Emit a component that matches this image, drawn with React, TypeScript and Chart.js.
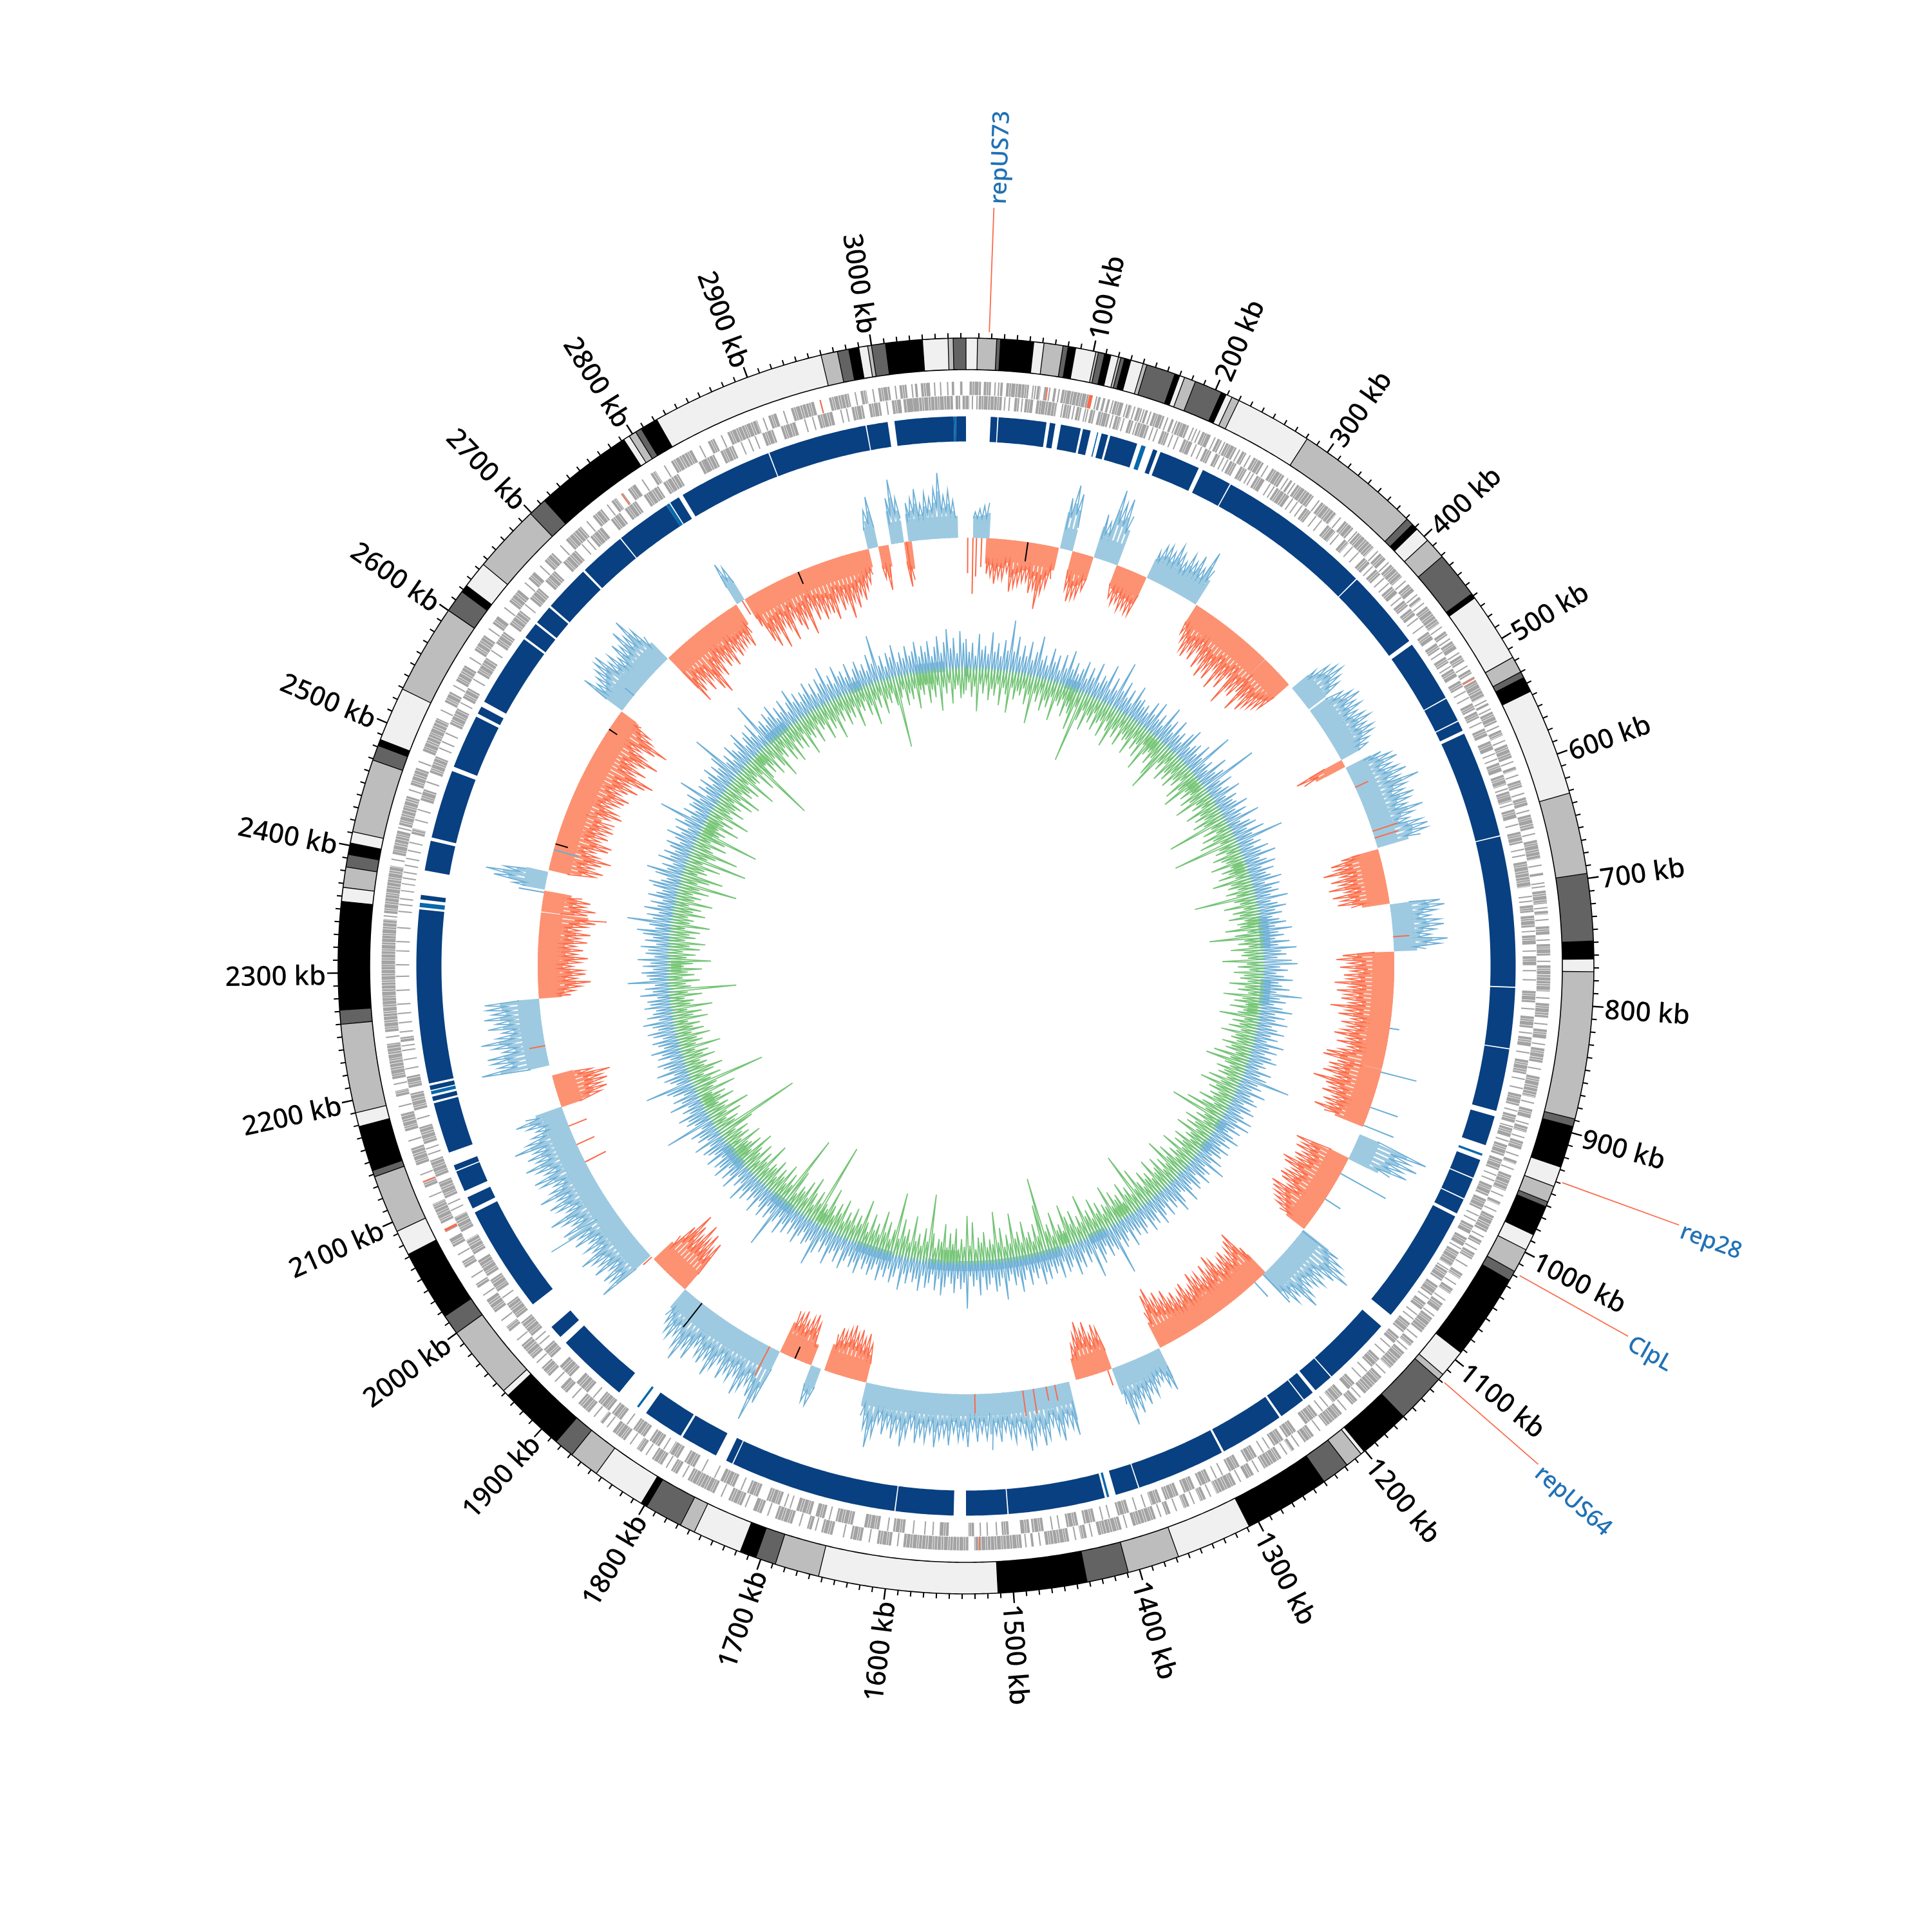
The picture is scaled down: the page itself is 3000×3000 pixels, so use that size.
import React, { useEffect, useRef } from "react";
import { Chart, registerables } from "chart.js";

Chart.register(...registerables);

const GENOME_KB = 3074;

// Outer banding: each band ends at the given kb (starting at 0) with the given tone
const bandEnds = [9,24,27,53,61,76,80,86,102,104,109,114,120,122,125,130,140,143,166,170,174,183,205,209,214,220,281,381,387,392,404,421,458,462,517,530,535,547,632,696,749,763,773,889,895,928,944,957,961,985,998,1017,1025,1093,1115,1120,1160,1201,1204,1218,1240,1308,1368,1409,1442,1512,1653,1688,1704,1717,1756,1768,1798,1803,1845,1869,1885,1937,1942,2000,2016,2072,2092,2138,2143,2179,2190,2260,2271,2356,2367,2383,2393,2402,2411,2469,2481,2486,2529,2600,2618,2624,2645,2699,2714,2792,2797,2803,2808,2822,2960,2973,2982,2990,2997,3000,3011,3040,3060,3064,3074];
const bandTones = ["L","M","D","K","L","M","D","K","L","M","D","K","L","M","D","K","L","M","D","K","L","M","D","K","L","M","L","M","D","K","L","M","D","K","L","M","D","K","L","M","D","K","L","M","D","K","L","M","D","K","L","M","D","K","L","M","D","K","L","M","D","K","L","M","D","K","L","M","D","K","L","M","D","K","L","M","D","K","L","M","D","K","L","M","D","K","L","M","D","K","L","M","D","K","L","M","D","K","L","M","D","K","L","M","D","K","L","M","D","K","L","M","D","K","L","M","D","K","L","M","D"];

const geneOuter = [[3,13],[15,21],[29,31],[34,53],[60,63],[66,68],[74,76],[81,104],[112,114],[116,118],[120,122],[126,134],[138,141],[146,150],[153,155],[160,170],[176,178],[182,192],[198,199],[204,212],[218,222],[226,236],[241,245],[252,262],[270,282],[288,290],[295,312],[320,336],[345,355],[360,378],[385,392],[398,412],[420,428],[434,437],[444,462],[470,474],[480,488],[494,500],[508,512],[518,534],[540,542],[548,558],[565,570],[578,590],[598,601],[610,616],[625,632],[640,652],[662,678],[690,692],[705,716],[722,725],[735,742],[750,760],[768,790],[800,812],[822,830],[838,850],[862,880],[890,898],[905,910],[918,925],[935,938],[948,962],[972,975],[985,1000],[1008,1012],[1020,1026],[1040,1045],[1055,1060],[1070,1078],[1085,1100],[1110,1115],[1122,1140],[1150,1170],[1178,1184],[1195,1212],[1225,1235],[1245,1248],[1258,1275],[1285,1292],[1302,1320],[1330,1335],[1345,1350],[1362,1366],[1375,1395],[1405,1425],[1435,1440],[1450,1470],[1480,1482],[1490,1530],[1535,1590],[1600,1612],[1625,1635],[1650,1660],[1668,1672],[1685,1700],[1712,1720],[1730,1742],[1755,1780],[1790,1796],[1805,1815],[1825,1830],[1842,1855],[1865,1868],[1880,1892],[1905,1912],[1925,1935],[1945,1960],[1975,1980],[1995,2008],[2020,2024],[2040,2046],[2060,2068],[2082,2100],[2115,2120],[2135,2150],[2165,2180],[2195,2200],[2210,2240],[2250,2345],[2350,2390],[2400,2420],[2425,2450],[2460,2475],[2490,2520],[2535,2545],[2555,2570],[2585,2600],[2612,2620],[2635,2648],[2660,2668],[2680,2690],[2705,2722],[2735,2745],[2755,2760],[2772,2780],[2795,2800],[2815,2835],[2850,2856],[2868,2895],[2905,2912],[2925,2945],[2958,2975],[2985,2990],[3000,3010],[3018,3024],[3031,3033],[3036,3044],[3062,3064],[3069,3071]];
const geneInner = [[3020,3063],[3065,3069],[3071,3074],[0,3],[11,31],[42,46],[51,58],[61,79],[85,91],[96,100],[108,112],[115,125],[130,135],[142,146],[150,160],[172,178],[192,200],[212,218],[222,226],[236,242],[246,252],[262,270],[282,295],[312,318],[336,345],[355,360],[378,385],[392,398],[412,420],[428,434],[437,444],[462,470],[474,480],[488,494],[500,508],[512,518],[534,540],[542,548],[558,565],[570,578],[590,598],[601,610],[616,625],[632,640],[652,662],[678,700],[716,722],[725,735],[742,750],[760,768],[790,800],[812,822],[830,838],[850,862],[880,890],[898,905],[910,918],[925,935],[938,948],[962,972],[975,985],[1000,1008],[1012,1020],[1026,1040],[1045,1055],[1060,1070],[1078,1085],[1100,1110],[1115,1122],[1140,1150],[1170,1178],[1184,1195],[1212,1225],[1235,1245],[1248,1258],[1275,1285],[1292,1302],[1320,1330],[1335,1345],[1350,1362],[1366,1375],[1395,1405],[1425,1435],[1440,1450],[1470,1480],[1482,1490],[1500,1506],[1530,1535],[1552,1560],[1590,1600],[1612,1625],[1635,1650],[1660,1668],[1672,1685],[1700,1712],[1720,1730],[1742,1755],[1780,1790],[1796,1805],[1815,1825],[1830,1842],[1855,1865],[1868,1880],[1892,1905],[1912,1925],[1935,1945],[1960,1975],[1980,1995],[2008,2020],[2024,2040],[2046,2060],[2068,2082],[2100,2115],[2120,2135],[2150,2165],[2180,2195],[2200,2210],[2240,2244],[2420,2425],[2450,2460],[2475,2490],[2520,2535],[2545,2555],[2570,2585],[2600,2612],[2620,2635],[2648,2660],[2668,2680],[2690,2705],[2722,2735],[2745,2755],[2760,2772],[2780,2795],[2800,2815],[2835,2850],[2856,2868],[2895,2905],[2912,2925],[2945,2958],[2975,2985],[2990,3000],[3010,3018],[3024,3032]];
// Single short genes standing alone on each strand
const loneOuter = [24,27,56,58,70,78,106,110,124,136,143,151,157,172,180,195,201,215,224,238,248,265,285,292,317,340,358,382,395,416,431,440,465,477,491,504,515,537,545,561,574,593,605,621,636,656,683,698,701,719,729,746,764,795,817,834,855,884,902,914,930,942,966,980,1004,1016,1032,1050,1066,1082,1105,1118,1145,1174,1190,1218,1240,1252,1280,1297,1325,1340,1356,1370,1400,1430,1444,1474,1486,1594,1618,1640,1664,1678,1706,1726,1748,1784,1800,1820,1836,1860,1874,1898,1918,1940,1965,1986,2012,2030,2052,2074,2106,2126,2156,2186,2205,2245,2347,2395,2422,2455,2480,2527,2550,2577,2606,2628,2655,2674,2698,2728,2750,2766,2786,2808,2842,2862,2900,2918,2950,2980,2995,3014,3028,3047,3052,3058];
const loneInner = [5,9,33,37,48,64,83,93,103,105,127,137,148,163,167,181,186,203,208,229,233,255,258,275,279,298,303,308,323,329,348,364,371,388,402,408,424,447,455,483,497,522,528,552,581,586,613,627,645,667,672,708,712,738,755,772,780,805,826,843,866,874,894,908,921,952,957,990,995,1022,1043,1073,1090,1095,1126,1133,1155,1162,1200,1206,1262,1268,1308,1314,1380,1388,1412,1418,1456,1462,1510,1518,1524,1565,1572,1582,1604,1655,1690,1695,1735,1760,1772,1810,1848,1885,1950,1955,2001,2088,2094,2140,2145,2172,2216,2224,2232,2236,2248,2256,2264,2272,2284,2296,2306,2318,2326,2338,2352,2358,2363,2370,2376,2381,2386,2392,2398,2405,2412,2432,2441,2466,2497,2503,2511,2540,2563,2592,2641,2712,2718,2839,2875,2882,2888,2933,2940,2965,2970,3005];
const geneRed = [[104,107],[68,69],[516,517],[2075,2077],[2120,2121],[2765,2766],[2950,2951],[1525,1526]];

const navyBlocks = [[3065,3074],[22,28],[29,72],[75,80],[85,103],[105,112],[122,128],[130,155],[170,174],[177,214],[218,245],[246,386],[387,459],[463,519],[520,542],[543,552],[555,651],[652,787],[788,842],[843,899],[904,931],[945,962],[963,982],[983,997],[1000,1105],[1118,1181],[1182,1200],[1203,1213],[1214,1238],[1240,1298],[1300,1380],[1381,1402],[1412,1499],[1500,1537],[1548,1600],[1601,1751],[1752,1758],[1768,1802],[1804,1841],[1871,1936],[1943,1955],[1981,2078],[2082,2093],[2099,2118],[2119,2124],[2136,2182],[2184,2188],[2194,2198],[2200,2356],[2365,2369],[2391,2418],[2421,2483],[2487,2536],[2539,2546],[2551,2617],[2619,2634],[2636,2653],[2655,2697],[2699,2741],[2742,2792],[2796,2805],[2809,2894],[2895,2984],[2985,3004],[3010,3063]];
const cyanBlocks = [[3063,3065],[118,119],[159,163],[939,941],[1408,1410],[1849,1851],[2190,2193],[2358,2362],[2792,2795]];

const redSegments = [[25,107],[123,148],[176,213],[278,378],[380,418],[523,532],[634,696],[752,888],[889,955],[996,1092],[1160,1306],[1367,1410],[1652,1702],[1718,1756],[1887,1935],[2141,2179],[2270,2367],[2368,2392],[2416,2490],[2491,2616],[2699,2797],[2810,2960],[2973,2985],[3003,3010]];
const blueSegments = [[8,26],[110,123],[150,176],[215,275],[425,454],[456,523],[535,630],[698,750],[966,997],[1095,1160],[1309,1367],[1420,1510],[1511,1652],[1706,1718],[1757,1885],[1942,2010],[2011,2141],[2191,2268],[2394,2414],[2618,2697],[2798,2808],[2961,2973],[2990,3003],[3010,3065]];

// Read per 5 kb: height of the spike of the skew track, px-like units away from its baseline
const skewPeaks = [
0,0,40,45,50,55,58,70,60,62,50,80,72,68,62,60,78,70,101,75,
64,50,80,102,90,60,78,72,68,55,70,60,114,95,105,80,52,60,55,65,
60,65,65,45,58,62,55,70,60,50,66,58,72,55,87,60,50,60,72,80,
66,78,58,84,70,92,76,88,64,96,72,86,60,105,74,82,68,98,70,88,
76,72,66,60,0,45,65,75,80,70,62,55,58,70,80,66,72,60,68,74,
62,70,66,55,48,80,70,60,72,80,66,74,85,70,99,75,68,82,72,64,
88,70,60,78,86,82,70,60,78,72,93,66,84,70,90,64,86,72,80,60,
78,84,70,60,74,80,66,58,84,72,50,80,90,70,84,66,78,72,92,68,
88,74,80,66,96,70,82,60,76,64,72,84,62,78,58,70,90,94,70,82,
76,88,66,100,78,68,80,60,74,64,84,66,70,60,114,90,105,85,95,70,
88,74,82,66,78,70,92,86,68,74,82,76,60,86,80,72,66,60,50,70,
82,90,107,86,70,80,72,66,78,92,62,70,55,89,80,70,60,74,66,58,
72,84,62,76,58,70,66,78,60,56,72,64,54,68,60,78,66,82,72,95,
86,60,70,60,48,52,66,58,74,62,82,70,96,60,68,76,62,84,72,88,
70,55,0,0,84,72,66,88,76,62,80,90,70,84,95,72,66,78,70,60,
76,64,88,70,60,74,56,82,68,72,60,80,66,70,84,62,76,68,80,58,
72,88,66,78,62,74,58,80,99,70,52,60,75,66,78,70,82,74,68,72,
60,0,62,58,0,65,78,70,62,76,68,71,90,122,86,70,82,94,66,78,
70,84,62,76,92,68,80,72,60,88,74,100,82,66,76,70,58,50,88,75,
96,82,104,78,92,109,80,55,60,95,72,80,62,84,70,76,92,64,74,60,
82,70,117,88,66,78,96,62,74,84,66,92,70,60,78,86,64,74,90,68,
80,66,95,72,60,50,62,78,60,66,78,70,82,74,90,62,56,50,60,106,
78,86,92,66,80,98,72,62,84,70,88,74,82,85,50,56,66,82,60,74,
70,54,66,78,60,70,58,76,64,80,62,72,86,103,72,84,66,74,60,50,
82,96,68,55,72,84,66,78,92,70,62,82,86,64,76,68,80,72,78,66,
85,74,62,70,78,84,66,76,90,72,96,107,70,88,66,80,98,72,60,82,
100,68,60,40,75,55,62,70,78,84,62,70,56,76,66,88,72,96,70,50,
92,78,66,86,70,94,104,70,82,60,74,66,80,58,72,64,62,60,70,50,
70,60,50,80,92,70,100,66,74,96,62,78,88,70,100,60,82,68,86,74,
80,92,64,82,70,98,72,85,66,76,60,52,40,60,80,50,70,0,72,100,
70,60,60,66,80,56,72,64,78,102,66,74,58,0,0];

const strayRed = [[2,-55],[8,-87],[12,-60],[18,-45],[558,22],[612,40],[620,38],[735,25],[1527,30],[1472,40],[1460,38],[1445,22],[1435,25],[1372,25],[1770,50],[1940,18],[2073,-36],[2095,-30],[2118,-30],[2214,25],[2805,-25],[3006,-70]];
const strayBlue = [[891,57],[933,45],[1016,80],[1050,28],[955,50],[840,15],[1095,30],[1175,30],[1162,60],[2390,40],[2440,-40],[2640,18]];
const strayBlack = [[71,-30],[1862,47],[1738,-20],[2592,-15],[2447,-20],[2877,-20]];

// Read per 5 kb: the inner track, outward (blue) and inward (green) from its baseline
const gcBlue = [
50,30,44,24,58,34,40,28,62,32,46,26,52,36,84,36,60,30,48,32,
56,28,42,68,32,40,26,54,34,46,24,50,30,60,32,44,28,38,52,26,
46,32,58,28,42,36,64,26,48,30,79,34,52,28,44,24,56,36,40,30,
36,26,48,30,54,28,40,24,60,34,44,26,52,30,38,24,46,56,28,36,
42,28,50,30,80,28,38,24,56,32,44,96,30,48,26,36,52,24,40,30,
34,50,26,42,30,58,24,38,46,28,54,32,80,30,40,26,48,34,56,28,
38,50,26,44,30,36,52,24,46,32,42,28,54,26,36,48,30,40,24,34,
44,26,52,30,38,24,46,28,56,32,40,26,48,57,30,42,24,36,50,28,
34,46,26,66,32,42,24,38,54,28,44,30,50,26,36,48,28,40,24,52,
30,44,26,38,48,28,34,24,46,30,42,81,32,40,26,50,28,36,44,24,
38,46,26,34,50,28,51,30,42,24,36,48,28,40,26,44,32,38,24,46,
30,58,26,40,34,48,24,38,44,28,36,52,30,26,42,54,32,40,24,46,
28,38,50,26,42,34,48,24,36,44,30,40,28,52,26,38,46,30,84,42,
34,48,28,40,52,26,70,30,42,24,46,36,54,28,38,44,26,50,30,40,
28,46,34,52,26,40,30,48,24,38,56,32,44,26,36,64,30,42,50,28,
38,46,26,54,30,40,24,74,34,44,28,50,36,26,42,55,30,48,24,38,
46,28,52,34,40,26,44,30,56,24,38,48,28,42,32,50,26,36,46,30,
40,26,50,34,44,28,38,52,24,46,30,36,56,28,42,26,48,70,32,38,
44,26,36,50,30,42,24,46,34,54,28,40,86,32,44,26,48,36,28,52,
30,40,26,46,34,56,28,38,24,51,32,44,26,50,36,42,24,48,30,38,
44,28,52,26,40,34,46,24,82,30,42,36,50,28,38,26,54,32,44,24,
40,48,80,28,36,44,26,52,30,38,46,24,42,34,50,28,36,44,26,40,
48,30,38,52,26,44,34,28,46,36,40,24,50,30,42,26,68,34,38,46,
28,44,32,52,26,40,36,48,24,42,30,46,56,28,38,73,34,44,26,50,
30,42,24,48,36,28,44,52,34,26,46,61,30,40,24,50,32,44,28,38,
46,26,36,52,30,42,24,48,34,78,28,44,26,40,36,50,30,68,24,42,
32,46,26,38,50,28,44,34,52,86,30,40,24,48,36,28,42,54,26,38,
44,30,50,24,77,34,40,28,46,36,52,26,42,30,48,24,38,56,32,44,
26,40,34,50,28,44,24,46,36,60,30,42,26,52,34,40,28,48,24,36,
46,30,38,26,50,34,77,28,42,24,44,36,54,26,40,30,48,32,38,52,
28,44,34,50,26,40,56,30,46,66,36,52,28,62,44];
const gcGreen = [
30,18,40,24,62,20,34,16,44,26,36,18,50,22,32,60,20,38,24,30,
18,42,26,70,22,34,16,46,28,38,20,56,24,30,18,44,26,36,60,22,
109,40,22,52,26,36,18,44,30,24,48,20,34,58,26,38,18,46,24,32,
28,50,20,36,24,44,18,60,30,22,40,26,54,77,24,34,18,46,28,38,
22,44,26,34,18,50,30,60,24,36,20,42,28,56,22,32,18,48,26,38,
24,46,30,92,22,38,18,44,28,52,20,99,26,34,18,42,30,24,50,20,
36,26,44,18,56,28,34,20,40,24,92,30,22,48,18,36,26,44,20,32,
28,52,18,38,78,24,34,18,46,26,30,20,60,22,36,18,42,26,32,20,
48,24,34,18,56,26,38,20,44,22,30,58,18,36,24,40,20,50,26,32,
22,44,28,36,18,52,24,62,30,20,40,26,34,18,46,24,56,28,38,20,
32,24,46,18,36,60,26,81,22,34,18,48,28,40,20,52,24,30,18,44,
26,38,20,54,24,34,18,46,28,62,22,36,18,44,30,24,50,20,34,26,
42,18,30,56,24,87,20,36,26,48,18,34,28,44,22,58,26,32,18,40,
24,50,20,36,28,64,22,34,18,46,26,40,60,20,32,24,54,18,38,28,
114,72,24,44,18,34,26,52,20,38,28,68,22,36,18,48,26,74,24,32,
20,44,28,36,18,60,24,70,22,34,18,50,26,42,20,56,28,32,18,40,
100,26,46,18,36,24,62,20,40,28,54,22,93,34,18,44,26,58,20,36,
24,48,18,32,66,26,38,20,46,24,36,18,52,28,42,20,34,60,24,30,
127,26,44,18,36,60,22,48,28,34,18,54,111,24,40,20,50,26,36,18,
44,28,32,20,60,24,38,18,46,26,34,56,20,42,28,24,50,18,36,26,
40,20,54,133,28,36,18,46,24,64,26,34,20,48,28,38,18,58,24,32,
111,26,44,18,36,52,24,30,20,46,28,38,18,60,22,34,26,48,20,40,
24,36,18,50,28,42,20,60,26,32,18,46,24,100,30,22,44,18,36,26,
48,20,34,62,24,38,18,44,28,52,20,36,26,42,18,56,24,30,20,46,
26,38,18,54,24,34,20,44,28,86,22,40,60,18,32,26,50,20,89,24,
36,70,28,22,46,18,40,92,26,34,20,52,24,38,18,60,30,22,44,26,
34,18,48,24,56,20,36,28,42,18,64,26,30,20,50,24,110,40,18,36,
26,46,20,38,60,24,32,18,44,28,52,20,36,24,40,18,56,26,34,22,
46,18,30,24,50,20,38,28,58,22,34,18,44,26,36,20,54,24,32,18,
42,28,60,22,36,18,48,26,34,20,40,107,30,18,44,26,36,20,52,24,
32,18,46,26,38,20,60,24,34,18,50,28,22,42,36];
const gcPaleBlue = [[165,190],[690,740],[790,830],[1035,1050],[1075,1090],[1300,1330],[1380,1600],[1660,1720],[1840,1880],[1950,1990],[2720,2760],[2880,2900],[2990,3040]];
const gcPaleGreen = [[175,185],[330,350],[430,450],[590,610],[690,700],[830,850],[1250,1270],[1360,1375],[1550,1580],[1780,1800],[1960,1975],[2060,2080],[2295,2315],[2530,2560],[2680,2700],[2990,3020]];

const tickLabelKbs = [100,200,300,400,500,600,700,800,900,1000,1100,1200,1300,1400,1500,1600,1700,1800,1900,2000,2100,2200,2300,2400,2500,2600,2700,2800,2900,3000];
const minorTickStepKb = 10;
const geneNames = ["repUS73","rep28","ClpL","repUS64"];
const genePositions = [18,939,1018,1119];

const BINK = 5;
const TONE: Record<string, string> = { L: "#f0f0f0", M: "#bdbdbd", D: "#636363", K: "#000000" };
const GAP = { x: NaN, y: NaN };
// A very long dash keeps Chart.js on its exact path method, which does not merge near-vertical points
const SOLID = [1000000, 1];
const HATCH = [4, 0.7, 2.5, 0.7, 6, 0.8, 3, 0.7, 5, 0.7];

function polar(kb: number, r: number) {
  const a = (kb / GENOME_KB) * 2 * Math.PI;
  return { x: r * Math.sin(a), y: r * Math.cos(a) };
}
function arc(s: number, e: number, r: number) {
  const pts = [];
  const n = Math.max(1, Math.ceil((e - s) / 3));
  for (let i = 0; i <= n; i++) pts.push(polar(s + ((e - s) * i) / n, r));
  pts.push(GAP);
  return pts;
}
function arcs(list: number[][], r: number) {
  return list.flatMap(([s, e]) => arc(s, e, r));
}
function radial(kb: number, r1: number, r2: number) {
  return [polar(kb, r1), polar(kb, r2), GAP];
}
function zigzag(segs: number[][], vals: number[], base: number, sign: number, floor: number, share: number) {
  const pts: { x: number; y: number }[] = [];
  for (const [s, e] of segs) {
    pts.push(polar(s, base + sign * floor));
    for (let i = Math.ceil(s / BINK); i * BINK <= e; i++) {
      const kb = i * BINK;
      const v = vals[i] || 0;
      const next = vals[i + 1] || 0;
      if (v > 0) pts.push(polar(kb, base + sign * v));
      const low = share > 0 ? Math.max(floor, Math.min(v, next) * share) : floor;
      if (kb + BINK / 2 < e) pts.push(polar(kb + BINK / 2, base + sign * low));
    }
    pts.push(GAP);
  }
  return pts;
}
function teeth(segs: number[][], vals: number[], base: number, sign: number) {
  const pts: { x: number; y: number }[] = [];
  for (const [s, e] of segs) {
    for (let i = Math.ceil(s / BINK); i * BINK <= e; i++) {
      const v = vals[i] || 0;
      if (v > 0) pts.push(...radial(i * BINK, base, base + sign * v * 0.72));
    }
  }
  return pts;
}
function line(data: { x: number; y: number }[], color: string, width: number, dash: number[] = SOLID) {
  return {
    data,
    borderColor: color,
    backgroundColor: color,
    borderWidth: width,
    borderDash: dash,
    showLine: true,
    pointRadius: 0,
    pointHoverRadius: 0,
    fill: false,
    tension: 0,
    spanGaps: false,
  };
}

const R_OUT = 975;
const R_IN = 926;
const SKEW_BASE = 665;
const GC_BASE = 458;

function buildDatasets() {
  const ds: any[] = [];
  // bands
  let start = 0;
  const byTone: Record<string, any[]> = { L: [], M: [], D: [], K: [] };
  const edges: any[] = [];
  bandEnds.forEach((end, i) => {
    byTone[bandTones[i]].push(...arc(start, end, (R_OUT + R_IN) / 2));
    edges.push(...radial(end, R_IN, R_OUT));
    start = end;
  });
  for (const t of ["L", "M", "D", "K"]) ds.push(line(byTone[t], TONE[t], R_OUT - R_IN));
  ds.push(line(edges, "#000000", 1.3));
  ds.push(line(arc(0, GENOME_KB, R_OUT), "#000000", 1.6));
  ds.push(line(arc(0, GENOME_KB, R_IN), "#000000", 1.6));
  // ticks
  const minor: any[] = [];
  for (let kb = minorTickStepKb; kb < GENOME_KB; kb += minorTickStepKb) {
    if (!tickLabelKbs.includes(kb)) minor.push(...radial(kb, R_OUT, R_OUT + 8));
  }
  ds.push(line(minor, "#000000", 2));
  ds.push(line(tickLabelKbs.flatMap((kb) => radial(kb, R_OUT, R_OUT + 17)), "#000000", 2.4));
  // genes
  ds.push(line(arcs(geneOuter, 897), "#a3a3a3", 21, HATCH));
  ds.push(line(arcs(geneInner, 875), "#a3a3a3", 21, HATCH));
  const lone = (list: number[]) => list.map((kb) => [kb, kb + 1.1]);
  ds.push(line(arcs(lone(loneOuter), 897), "#a3a3a3", 21));
  ds.push(line(arcs(lone(loneInner), 875), "#a3a3a3", 21));
  ds.push(line(arcs(geneRed, 897), "#fb6a4a", 21));
  // navy ring
  ds.push(line(arcs(navyBlocks, 834), "#084081", 39));
  ds.push(line(arcs(cyanBlocks, 834), "#0868ac", 39));
  // skew track
  ds.push(line(arcs(redSegments, SKEW_BASE - 17), "#fc9272", 34));
  ds.push(line(arcs(blueSegments, SKEW_BASE + 17), "#9ecae1", 34));
  ds.push(line(teeth(redSegments, skewPeaks, SKEW_BASE, -1), "#fc9272", 5));
  ds.push(line(teeth(blueSegments, skewPeaks, SKEW_BASE, 1), "#9ecae1", 5));
  ds.push(line(zigzag(redSegments, skewPeaks, SKEW_BASE, -1, 30, 0.62), "#fb6a4a", 1.7));
  ds.push(line(zigzag(blueSegments, skewPeaks, SKEW_BASE, 1, 30, 0.62), "#6baed6", 1.7));
  const strays = (list: number[][]) => list.flatMap(([kb, v]) => radial(kb, SKEW_BASE, SKEW_BASE + v));
  ds.push(line(strays(strayRed), "#fb6a4a", 2));
  ds.push(line(strays(strayBlue), "#6baed6", 2));
  ds.push(line(strays(strayBlack), "#000000", 2));
  // inner track
  ds.push(line(arcs(gcPaleBlue, GC_BASE + 8), "#9ecae1", 16));
  ds.push(line(zigzag([[0, GENOME_KB]], gcBlue, GC_BASE, 1, -8, 0), "#6baed6", 1.7));
  ds.push(line(arcs(gcPaleGreen, GC_BASE - 8), "#a1d99b", 16));
  ds.push(line(zigzag([[0, GENOME_KB]], gcGreen, GC_BASE, -1, -6, 0), "#74c476", 1.7));
  // gene leaders
  ds.push(line(genePositions.flatMap((kb) => radial(kb, 985, 1178)), "#fb6a4a", 1.8));
  return ds.reverse();
}

const labelPlugin = {
  id: "radialLabels",
  afterDatasetsDraw(chart: any) {
    const { ctx, scales } = chart;
    const put = (kb: number, r: number, text: string, font: string, color: string, drop: number) => {
      const p = polar(kb, r);
      const deg = (kb / GENOME_KB) * 360;
      const left = deg > 180;
      ctx.save();
      ctx.translate(scales.x.getPixelForValue(p.x), scales.y.getPixelForValue(p.y));
      ctx.rotate(((left ? deg + 90 : deg - 90) * Math.PI) / 180);
      ctx.font = font;
      ctx.fillStyle = color;
      ctx.textBaseline = "middle";
      ctx.textAlign = left ? "right" : "left";
      ctx.fillText(text, 0, drop);
      ctx.restore();
    };
    tickLabelKbs.forEach((kb) => put(kb, 994, `${kb} kb`, '500 42px "Noto Sans"', "#000000", 6));
    geneNames.forEach((name, i) => put(genePositions[i], 1184, name, '500 36px "Noto Sans"', "#2171b5", 8));
  },
};

export default function App() {
  const ref = useRef<HTMLCanvasElement>(null);
  useEffect(() => {
    document.body.style.margin = "0";
    const chart = new Chart(ref.current as HTMLCanvasElement, {
      type: "scatter",
      data: { datasets: buildDatasets() },
      options: {
        animation: false,
        responsive: false,
        devicePixelRatio: 1,
        events: [],
        layout: { padding: 0 },
        plugins: { legend: { display: false }, tooltip: { enabled: false } },
        scales: {
          x: { type: "linear", display: false, min: -1500, max: 1500 },
          y: { type: "linear", display: false, min: -1500, max: 1500 },
        },
      },
      plugins: [labelPlugin],
    } as any);
    return () => chart.destroy();
  }, []);
  return <canvas ref={ref} width={3000} height={3000} style={{ display: "block" }} />;
}
